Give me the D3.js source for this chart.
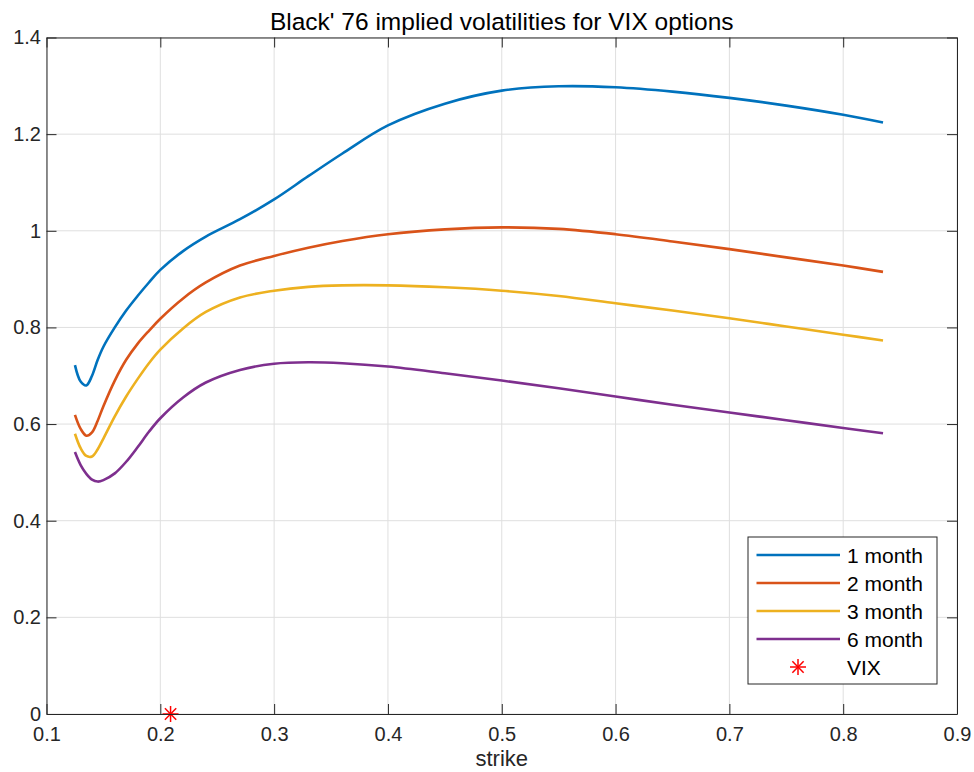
<!DOCTYPE html>
<html>
<head>
<meta charset="utf-8">
<script src="https://cdn.jsdelivr.net/npm/d3@7"></script>
<style>
  html, body { margin: 0; padding: 0; background: #fff; }
  svg text { font-family: "Liberation Sans", Arial, Helvetica, sans-serif; fill: #262626; }
</style>
</head>
<body>
<svg id="chart"></svg>
<script>
// strikes shared by all maturities
const strikes = [0.125, 0.13, 0.135, 0.14, 0.145, 0.15, 0.16, 0.17, 0.18, 0.19, 0.2, 0.22, 0.24, 0.27, 0.3, 0.33, 0.36, 0.4, 0.45, 0.5, 0.55, 0.6, 0.65, 0.7, 0.75, 0.8, 0.835];

const vol1m = [0.722, 0.688, 0.680, 0.700, 0.733, 0.760, 0.800, 0.835, 0.865, 0.893, 0.919, 0.958, 0.988, 1.024, 1.065, 1.113, 1.160, 1.218, 1.263, 1.290, 1.299, 1.297, 1.288, 1.275, 1.259, 1.240, 1.224];
const vol2m = [0.619, 0.590, 0.576, 0.583, 0.607, 0.637, 0.690, 0.733, 0.766, 0.793, 0.818, 0.860, 0.893, 0.928, 0.948, 0.965, 0.979, 0.993, 1.003, 1.007, 1.004, 0.993, 0.978, 0.962, 0.945, 0.928, 0.915];
const vol3m = [0.580, 0.550, 0.534, 0.533, 0.548, 0.570, 0.616, 0.657, 0.693, 0.726, 0.754, 0.798, 0.832, 0.862, 0.876, 0.884, 0.887, 0.887, 0.883, 0.876, 0.865, 0.850, 0.835, 0.819, 0.802, 0.785, 0.773];
const vol6m = [0.542, 0.515, 0.497, 0.485, 0.481, 0.484, 0.498, 0.522, 0.552, 0.584, 0.612, 0.655, 0.686, 0.712, 0.725, 0.728, 0.726, 0.719, 0.705, 0.690, 0.674, 0.657, 0.640, 0.624, 0.608, 0.592, 0.581];

const seriesNames = ["1 month", "2 month", "3 month", "6 month"];
const seriesColors = ["#0072BD", "#D95319", "#EDB120", "#7E2F8E"];
const seriesValues = [vol1m, vol2m, vol3m, vol6m];

const vixPoint = [0.209, 0];

const xTicks = [0.1, 0.2, 0.3, 0.4, 0.5, 0.6, 0.7, 0.8, 0.9];
const xTickLabels = ["0.1", "0.2", "0.3", "0.4", "0.5", "0.6", "0.7", "0.8", "0.9"];
const yTicks = [0, 0.2, 0.4, 0.6, 0.8, 1, 1.2, 1.4];
const yTickLabels = ["0", "0.2", "0.4", "0.6", "0.8", "1", "1.2", "1.4"];

const width = 974, height = 772;
const margin = { top: 37.5, right: 17, bottom: 58, left: 46.5 };
const iw = width - margin.left - margin.right;
const ih = height - margin.top - margin.bottom;

const svg = d3.select("#chart").attr("width", width).attr("height", height);
const g = svg.append("g").attr("transform", `translate(${margin.left},${margin.top})`);

const x = d3.scaleLinear().domain([0.1, 0.9]).range([0, iw]);
const y = d3.scaleLinear().domain([0, 1.4]).range([ih, 0]);

// grid
g.append("g").selectAll("line.vgrid").data(xTicks).enter().append("line")
    .attr("x1", d => x(d)).attr("x2", d => x(d)).attr("y1", 0).attr("y2", ih)
    .style("stroke", "#dfdfdf").style("stroke-width", 1);
g.append("g").selectAll("line.hgrid").data(yTicks).enter().append("line")
    .attr("y1", d => y(d)).attr("y2", d => y(d)).attr("x1", 0).attr("x2", iw)
    .style("stroke", "#dfdfdf").style("stroke-width", 1);

// curves
const line = d3.line()
    .x(d => x(d[0]))
    .y(d => y(d[1]))
    .curve(d3.curveCatmullRom.alpha(0.5));

seriesValues.forEach((vals, i) => {
    g.append("path")
        .datum(strikes.map((s, j) => [s, vals[j]]))
        .attr("d", line)
        .style("fill", "none")
        .style("stroke", seriesColors[i])
        .style("stroke-width", 2.6)
        .style("stroke-linejoin", "round");
});

// asterisk marker like matlab '*'
function star(sel, cx, cy, r) {
    const s = sel.append("g").attr("transform", `translate(${cx},${cy})`);
    const d = r * Math.SQRT1_2;
    [[-r, 0, r, 0], [0, -r, 0, r], [-d, -d, d, d], [-d, d, d, -d]].forEach(c => {
        s.append("line").attr("x1", c[0]).attr("y1", c[1]).attr("x2", c[2]).attr("y2", c[3])
            .style("stroke", "#ff0000").style("stroke-width", 1.5);
    });
}
star(g, x(vixPoint[0]), y(vixPoint[1]), 8);

// axes, ticks inside like matlab
const axisStyle = a => {
    a.select(".domain").style("stroke", "#262626");
    a.selectAll(".tick line").style("stroke", "#262626");
    a.selectAll("text").style("font-size", "20px").style("fill", "#262626")
        .style("font-family", '"Liberation Sans", Arial, sans-serif');
};

g.append("g").attr("transform", `translate(0,${ih})`)
    .call(d3.axisBottom(x).tickValues(xTicks).tickFormat((d, i) => xTickLabels[i]).tickSize(-10).tickSizeOuter(0).tickPadding(12.5))
    .call(axisStyle);
g.append("g")
    .call(d3.axisTop(x).tickValues(xTicks).tickFormat("").tickSize(-10).tickSizeOuter(0))
    .call(axisStyle);
g.append("g")
    .call(d3.axisLeft(y).tickValues(yTicks).tickFormat((d, i) => yTickLabels[i]).tickSize(-10).tickSizeOuter(0).tickPadding(5.5))
    .call(axisStyle);
g.append("g").attr("transform", `translate(${iw},0)`)
    .call(d3.axisRight(y).tickValues(yTicks).tickFormat("").tickSize(-10).tickSizeOuter(0))
    .call(axisStyle);

// title and label
svg.append("text")
    .attr("x", margin.left + iw / 2).attr("y", 30)
    .attr("text-anchor", "middle")
    .style("font-size", "24.5px").style("fill", "#000")
    .text("Black' 76 implied volatilities for VIX options");

svg.append("text")
    .attr("x", margin.left + iw / 2).attr("y", 766)
    .attr("text-anchor", "middle")
    .style("font-size", "22px")
    .text("strike");

// legend
const lg = svg.append("g").attr("transform", "translate(748,537)");
lg.append("rect").attr("width", 189).attr("height", 147)
    .style("fill", "#fff").style("stroke", "#262626").style("stroke-width", 1);

const legendItems = seriesNames.concat(["VIX"]);
legendItems.forEach((name, i) => {
    const yy = 18 + i * 28;
    if (i < seriesNames.length) {
        lg.append("line").attr("x1", 8.5).attr("x2", 92).attr("y1", yy).attr("y2", yy)
            .style("stroke", seriesColors[i]).style("stroke-width", 2.6);
    } else {
        star(lg, 50, yy, 8);
    }
    lg.append("text").attr("x", 99).attr("y", yy).attr("dy", "0.36em")
        .style("font-size", "21px").style("fill", "#000")
        .text(name);
});
</script>
</body>
</html>
